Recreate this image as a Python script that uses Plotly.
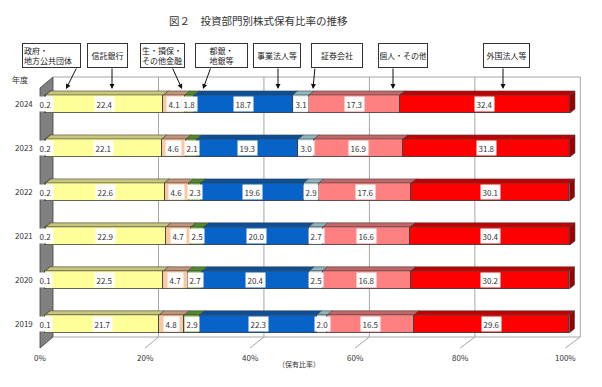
import plotly.graph_objects as go

# ---------------- data ----------------
years = ['2024', '2023', '2022', '2021', '2020', '2019']
sectors = ['政府・地方公共団体', '信託銀行', '生・損保・その他金融', '都銀・地銀等',
           '事業法人等', '証券会社', '個人・その他', '外国法人等']
legend_labels = ['政府・<br>地方公共団体', '信託銀行', '生・損保・<br>その他金融', '都銀・<br>地銀等',
                 '事業法人等', '証券会社', '個人・その他', '外国法人等']
gov = [0.2, 0.2, 0.2, 0.2, 0.1, 0.1]
trust = [22.4, 22.1, 22.6, 22.9, 22.5, 21.7]
insur = [4.1, 4.6, 4.6, 4.7, 4.7, 4.8]
banks = [1.8, 2.1, 2.3, 2.5, 2.7, 2.9]
corp = [18.7, 19.3, 19.6, 20.0, 20.4, 22.3]
secs = [3.1, 3.0, 2.9, 2.7, 2.5, 2.0]
indiv = [17.3, 16.9, 17.6, 16.6, 16.8, 16.5]
foreign = [32.4, 31.8, 30.1, 30.4, 30.2, 29.6]
series = [gov, trust, insur, banks, corp, secs, indiv, foreign]
xtick_vals = [0, 20, 40, 60, 80, 100]
xtick_text = ['0%', '20%', '40%', '60%', '80%', '100%']

# ---------------- styles ----------------
front = ['#FFFFFF', '#FFFF99', '#FAC8A0', '#77B043', '#0863C8', '#C4E0E6', '#FF8080', '#FF0000']
top = ['#C8C67A', '#C8C67A', '#C49478', '#4F8A2B', '#0A4F9A', '#8FB6BE', '#C46666', '#C00000']
side_col = '#9A0000'
edge = '#404040'
FONT = 'Noto Sans CJK JP'
TXT = '#333333'

W, H = 602, 387
XR = [-3, 104]
YR = [-0.8, 6.0]
ML, MR, MT, MB = 29, 11, 60, 28
ppx = (W - ML - MR) / (XR[1] - XR[0])
ppy = (H - MT - MB) / (YR[1] - YR[0])


def X(px):
    return (px - ML) / ppx + XR[0]


def Y(py):
    return YR[1] - (py - MT) / ppy


def PX(px):
    return (px - ML) / (W - ML - MR)


def PY(py):
    return (H - MB - py) / (H - MT - MB)


ypos = list(range(len(years) - 1, -1, -1))  # 2024 at top
BW = 0.41
DX = 5 / ppx
DY = 4 / ppy

fig = go.Figure()
for i, s in enumerate(sectors):
    fig.add_trace(go.Bar(
        y=ypos, x=series[i], name=s, orientation='h', width=BW,
        marker=dict(color=front[i], line=dict(color=edge, width=0.8)),
        hoverinfo='x+name', showlegend=False))

shapes = []
# 3D box: back wall, floor, left wall
back_off = X(53)
floor_back_y = Y(337)
floor_front_y = Y(348)
top_y = Y(77)
front_off = X(40)
wall_front_top = Y(88)
grid = '#A6A6A6'
shapes.append(dict(type='path', layer='below',
                   path=f'M {front_off},{floor_front_y} L {back_off},{floor_back_y} '
                        f'L {back_off},{top_y} L {front_off},{wall_front_top} Z',
                   fillcolor='#808080', line=dict(color='#404040', width=0.8)))
shapes.append(dict(type='line', layer='below', x0=back_off, x1=back_off + 100 * 1.004,
                   y0=top_y, y1=top_y, line=dict(color=grid, width=1)))
shapes.append(dict(type='line', layer='below', x0=back_off, x1=back_off + 100 * 1.004,
                   y0=floor_back_y, y1=floor_back_y, line=dict(color=grid, width=1)))
for v in xtick_vals[1:]:
    bx = back_off + v * 1.004
    fx = front_off + v
    shapes.append(dict(type='line', layer='below', x0=bx, x1=bx, y0=floor_back_y, y1=top_y,
                       line=dict(color=grid, width=1)))
    shapes.append(dict(type='line', layer='below', x0=bx, x1=fx, y0=floor_back_y, y1=floor_front_y,
                       line=dict(color=grid, width=1)))

annotations = []
for r, k in enumerate(ypos):
    cum = 0.0
    yt = k + BW / 2
    for i in range(len(sectors)):
        v = series[i][r]
        x0, x1 = cum, cum + v
        shapes.append(dict(type='path', layer='above',
                           path=f'M {x0},{yt} L {x1},{yt} L {x1 + DX},{yt + DY} L {x0 + DX},{yt + DY} Z',
                           fillcolor=top[i], line=dict(color=edge, width=0.6)))
        annotations.append(dict(x=(x0 + x1) / 2, y=k, text=f'{v:.1f}', showarrow=False,
                                font=dict(family=FONT, size=8, color=TXT),
                                bgcolor='#FFFFFF', borderpad=1.5))
        cum = x1
    shapes.append(dict(type='path', layer='above',
                       path=f'M {cum},{k - BW / 2} L {cum},{yt} L {cum + DX},{yt + DY} L {cum + DX},{k - BW / 2 + DY} Z',
                       fillcolor=side_col, line=dict(color=edge, width=0.6)))
    annotations.append(dict(xref='paper', x=PX(35), y=k, text=years[r], showarrow=False,
                            xanchor='right', yanchor='middle',
                            font=dict(family=FONT, size=8, color=TXT)))

# x tick labels along the front floor edge
for v, t in zip(xtick_vals, xtick_text):
    annotations.append(dict(x=front_off + v, yref='paper', y=PY(357), text=t, showarrow=False,
                            xanchor='center', yanchor='middle',
                            font=dict(family=FONT, size=8, color=TXT)))
annotations.append(dict(xref='paper', yref='paper', x=PX(299), y=PY(364), text='（保有比率）',
                        showarrow=False, xanchor='center', yanchor='middle',
                        font=dict(family=FONT, size=7, color=TXT)))
annotations.append(dict(xref='paper', yref='paper', x=PX(20), y=PY(80), text='年度', showarrow=False,
                        xanchor='center', yanchor='middle',
                        font=dict(family=FONT, size=8, color=TXT)))
annotations.append(dict(xref='paper', yref='paper', x=PX(258), y=PY(20),
                        text='図２　投資部門別株式保有比率の推移', showarrow=False,
                        xanchor='center', yanchor='middle',
                        font=dict(family=FONT, size=10.5, color=TXT)))

# legend boxes with arrows
box_lr = [(22, 81), (87, 128), (140, 185), (195, 248), (253, 301), (311, 363), (378, 428), (483, 530)]
box_align = ['left', 'center', 'left', 'center', 'center', 'center', 'center', 'center']
arrows = [(77, 66), (112, 112), (172, 182), (211, 203), (278, 278), (315, 313), (393, 393), (503, 503)]
for lab, (l, rgt), al, (tx, hx) in zip(legend_labels, box_lr, box_align, arrows):
    annotations.append(dict(xref='paper', yref='paper', x=PX((l + rgt) / 2), y=PY(55.5), text=lab,
                            showarrow=False, width=rgt - l - 4, height=21, align=al,
                            valign='middle', xanchor='center', yanchor='middle',
                            font=dict(family=FONT, size=8, color='#222222'),
                            bgcolor='#FFFFFF', bordercolor='#333333', borderwidth=1, borderpad=1))
    annotations.append(dict(x=X(hx), y=Y(89), ax=X(tx), ay=Y(67), axref='x', ayref='y',
                            text='', showarrow=True, arrowhead=2, arrowsize=1, arrowwidth=1,
                            arrowcolor='#111111'))

fig.update_layout(
    width=W, height=H, barmode='stack', bargap=0,
    margin=dict(l=ML, r=MR, t=MT, b=MB),
    paper_bgcolor='#FFFFFF', plot_bgcolor='#FFFFFF',
    xaxis=dict(range=XR, visible=False, fixedrange=True),
    yaxis=dict(range=YR, visible=False, fixedrange=True),
    shapes=shapes, annotations=annotations, showlegend=False,
    font=dict(family=FONT),
)

fig.write_html('out.html', config={'displayModeBar': False},
               post_script="document.body.style.margin='0';")
